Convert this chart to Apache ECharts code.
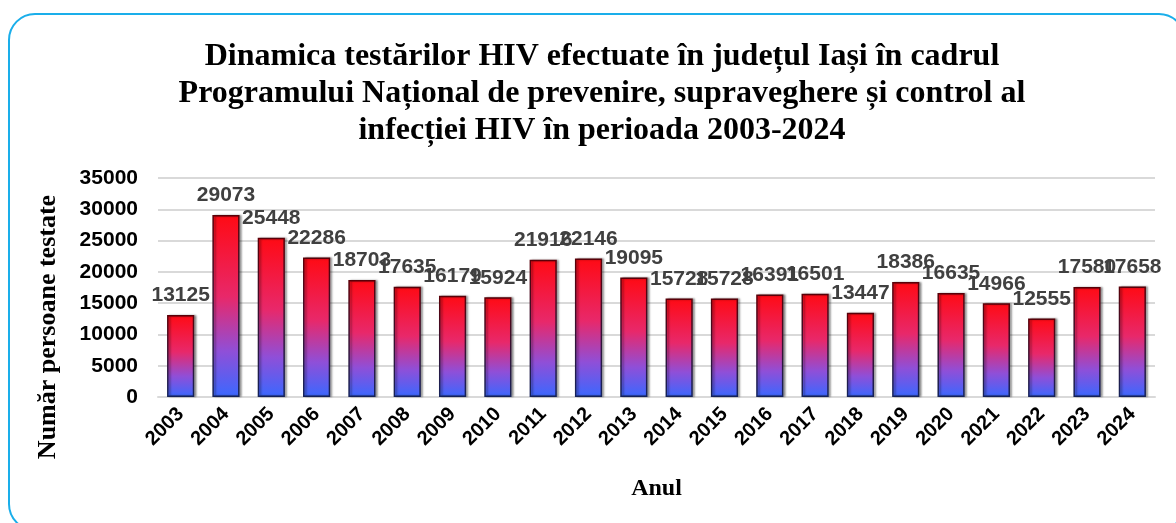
<!DOCTYPE html>
<html>
<head>
<meta charset="UTF-8">
<title>Dinamica testarilor HIV Iasi</title>
<style>
  *{padding:0;margin:0;}
  html,body{width:1176px;height:523px;background:#fff;overflow:hidden;}
  #chart{width:1176px;height:523px;}
</style>
</head>
<body>
<div id="chart"></div>
<script src="https://cdn.jsdelivr.net/npm/echarts@6/dist/echarts.min.js"></script>
<script>
var years = ["2003","2004","2005","2006","2007","2008","2009","2010","2011","2012","2013",
             "2014","2015","2016","2017","2018","2019","2020","2021","2022","2023","2024"];
var tested = [13125,29073,25448,22286,18703,17635,16179,15924,21916,22146,19095,
              15728,15728,16391,16501,13447,18386,16635,14966,12555,17580,17658];
var yTicks = [0,5000,10000,15000,20000,25000,30000,35000];

var chart = echarts.init(document.getElementById("chart"));

var option = {
  backgroundColor:"#fff",
  animation:false,
  title:{
    text:"Dinamica testărilor HIV efectuate în județul Iași în cadrul\nProgramului Național de prevenire, supraveghere și control al\ninfecției HIV în perioada 2003-2024",
    left:597,
    top:33,
    textAlign:"center",
    textStyle:{
      fontFamily:"Liberation Serif",
      fontWeight:"bold",
      fontSize:32,
      lineHeight:37,
      color:"#000"
    }
  },
  graphic:[
    {
      type:"rect",
      shape:{x:9,y:14,width:1176,height:516,r:26},
      style:{fill:"none",stroke:"#1aaeea",lineWidth:2}
    },
    {
      // titlul axei Y, mutat putin mai jos ca in original
      type:"text",
      x:48,
      y:327,
      rotation:Math.PI/2,
      style:{
        text:"Număr persoane testate",
        fontFamily:"Liberation Serif",
        fontWeight:"bold",
        fontSize:26,
        fill:"#000",
        align:"center",
        verticalAlign:"middle"
      }
    }
  ],
  grid:{left:158,right:21,top:178,bottom:126},
  xAxis:{
    type:"category",
    data:years,
    name:"Anul",
    nameLocation:"middle",
    nameGap:80,
    nameTextStyle:{fontFamily:"Liberation Serif",fontWeight:"bold",fontSize:24,color:"#000"},
    axisTick:{show:false},
    axisLine:{lineStyle:{color:"#d9d9d9",width:2}},
    axisLabel:{
      interval:0,
      rotate:45,
      margin:14,
      fontFamily:"Liberation Sans",
      fontWeight:"bold",
      fontSize:20,
      color:"#000"
    }
  },
  yAxis:{
    type:"value",
    min:yTicks[0],
    max:yTicks[yTicks.length-1],
    interval:yTicks[1]-yTicks[0],
    axisLine:{show:false},
    axisTick:{show:false},
    splitLine:{lineStyle:{color:"#d9d9d9",width:2}},
    axisLabel:{
      margin:20,
      formatter:function(v){ return String(v); },
      fontFamily:"Liberation Sans",
      fontWeight:"bold",
      fontSize:21,
      color:"#000"
    }
  },
  series:[
    {
      type:"bar",
      data:tested,
      barWidth:"60%",
      itemStyle:{
        color:new echarts.graphic.LinearGradient(0,0,0,1,[
          {offset:0,color:"#ff0a14"},
          {offset:0.45,color:"#e8286a"},
          {offset:0.75,color:"#8f4fd8"},
          {offset:1,color:"#3a68ff"}
        ]),
        borderColor:new echarts.graphic.LinearGradient(0,0,0,1,[
          {offset:0,color:"#5a0008"},
          {offset:1,color:"#14225a"}
        ]),
        borderWidth:1.5,
        shadowColor:"rgba(0,0,0,0.35)",
        shadowOffsetX:2,
        shadowOffsetY:0,
        shadowBlur:2
      },
      label:{
        show:true,
        position:"top",
        distance:9,
        fontFamily:"Liberation Sans",
        fontWeight:"bold",
        fontSize:21,
        color:"#404040"
      }
    }
  ]
};

chart.setOption(option);
</script>
</body>
</html>
